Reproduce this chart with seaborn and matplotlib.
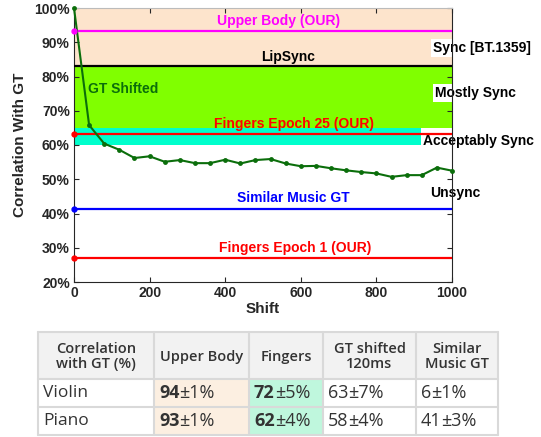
import numpy as np
import pandas as pd
import matplotlib
matplotlib.use("Agg")
import matplotlib.pyplot as plt
import seaborn as sns
from matplotlib.patches import Rectangle
from matplotlib.ticker import FuncFormatter

# Curve: correlation of shifted GT vs shift
shift = [0, 40, 80, 120, 160, 200, 240, 280, 320, 360, 400, 440, 480, 520,
         560, 600, 640, 680, 720, 760, 800, 840, 880, 920, 960, 1000]
corr = [100, 65.8, 60.4, 58.6, 56.2, 56.7, 55.1, 55.6, 54.7, 54.7, 55.7, 54.6, 55.6,
        55.9, 54.6, 53.8, 53.9, 53.2, 52.6, 52.1, 51.7, 50.7, 51.2, 51.2, 53.4, 52.5]

# Horizontal reference lines
ref_names = ["Upper Body (OUR)", "LipSync", "Fingers Epoch 25 (OUR)",
             "Similar Music GT", "Fingers Epoch 1 (OUR)"]
ref_values = [93.3, 83.0, 63.1, 41.3, 27.1]
ref_colors = ["#ff00ff", "#000000", "#ff0000", "#0000ff", "#ff0000"]
ref_markers = [True, False, True, True, True]

# Sync zones (BT.1359)
band_low = [83, 65, 60]
band_high = [100, 83, 65]
band_end = [1000, 1000, 918]
band_colors = ["#fde4cc", "#80ff00", "#00ffcc"]
zone_names = ["Sync [BT.1359]", "Mostly Sync", "Acceptably Sync", "Unsync"]
zone_y = [88.3, 75.1, 61.3, 45.9]
zone_x = [950, 955, 923, 942]

# Table
col_headers = ["Correlation\nwith GT (%)", "Upper Body", "Fingers",
               "GT shifted\n120ms", "Similar\nMusic GT"]
row_names = ["Violin", "Piano"]
upper_mean = [94, 93]
upper_std = [1, 1]
fingers_mean = [72, 62]
fingers_std = [5, 4]
shifted_mean = [63, 58]
shifted_std = [7, 4]
similar_mean = [6, 41]
similar_std = [1, 3]

sns.set_style("ticks")
plt.rcParams['font.family'] = ['Liberation Sans', 'DejaVu Sans']

fig = plt.figure(figsize=(5.41, 4.37), dpi=100)

# overlay axes in pixel coords for the table
axt = fig.add_axes([0, 0, 1, 1])
axt.set_xlim(0, 541)
axt.set_ylim(437, 0)
axt.axis("off")

ax = fig.add_axes([74 / 541, 1 - 282 / 437, 378 / 541, 274 / 437])
ax.set_xlim(0, 1000)
ax.set_ylim(20, 100)

for lo, hi, xe, c in zip(band_low, band_high, band_end, band_colors):
    ax.fill_between([0, xe], lo, hi, color=c, lw=0, zorder=0)

green = "#0b6e0b"
df = pd.DataFrame({"Shift": shift, "Corr": corr})
sns.lineplot(data=df, x="Shift", y="Corr", ax=ax, color=green, lw=1.5,
             marker="o", markersize=3.5, markeredgewidth=0, clip_on=False, zorder=4)

for name, v, c, m in zip(ref_names, ref_values, ref_colors, ref_markers):
    ax.plot([0, 1000], [v, v], color=c, lw=1.6, zorder=3)
    if m:
        ax.plot([0], [v], marker="o", color=c, markersize=3.5, clip_on=False, zorder=5)

# labels on the lines
lab_x = [540, 566, 581, 579, 584]
lab_y = [96.2, 85.7, 66.1, 44.5, 30.0]
for name, c, x, y in zip(ref_names, ref_colors, lab_x, lab_y):
    ax.text(x, y, name, color=c, fontsize=10, fontweight="bold", ha="center", va="center", zorder=6)
ax.text(37, 76.4, "GT Shifted", color=green, fontsize=10, fontweight="bold", ha="left", va="center", zorder=6)

for name, x, y in zip(zone_names, zone_x, zone_y):
    ax.text(x, y, name, color="black", fontsize=10, fontweight="bold", ha="left", va="center",
            zorder=2, clip_on=False,
            bbox=dict(facecolor="white", edgecolor="none", pad=1.5))

ax.set_xticks([0, 200, 400, 600, 800, 1000])
ax.set_yticks([20, 30, 40, 50, 60, 70, 80, 90, 100])
ax.yaxis.set_major_formatter(FuncFormatter(lambda v, p: f"{v:.0f}%"))
ax.tick_params(direction="in", top=True, right=True, length=3.5, width=0.8,
               labelsize=10, colors="#262626", pad=3)
for lab in ax.get_xticklabels() + ax.get_yticklabels():
    lab.set_fontweight("bold")
for s in ["left", "bottom", "right"]:
    ax.spines[s].set_color("#262626")
    ax.spines[s].set_linewidth(0.8)
ax.spines["top"].set_color("#bbbbbb")
ax.spines["top"].set_linewidth(0.8)
ax.set_xlabel("Shift", fontsize=11, fontweight="bold", labelpad=1)
ax.set_ylabel("Correlation With GT", fontsize=11, fontweight="bold", labelpad=5)

# ---- table ----
tfont = ['Open Sans', 'DejaVu Sans']
col_x = [38, 154, 249, 323, 416, 498]
row_y = [332, 379, 407, 435]
line_c = "#d9d9d9"
axt.add_patch(Rectangle((col_x[0], row_y[0]), col_x[-1] - col_x[0], row_y[1] - row_y[0],
                        facecolor="#f2f2f2", edgecolor="none"))
for r in range(2):
    axt.add_patch(Rectangle((col_x[1], row_y[r + 1]), col_x[2] - col_x[1], row_y[r + 2] - row_y[r + 1],
                            facecolor="#fcefe1", edgecolor="none"))
    axt.add_patch(Rectangle((col_x[2], row_y[r + 1]), col_x[3] - col_x[2], row_y[r + 2] - row_y[r + 1],
                            facecolor="#bff7dd", edgecolor="none"))
for y in row_y:
    axt.plot([col_x[0], col_x[-1]], [y, y], color=line_c, lw=1.5)
for x in col_x:
    axt.plot([x, x], [row_y[0], row_y[-1]], color=line_c, lw=1.5)

for i, h in enumerate(col_headers):
    cx = (col_x[i] + col_x[i + 1]) / 2
    axt.text(cx, (row_y[0] + row_y[1]) / 2 + 1, h, ha="center", va="center", fontsize=10.5,
             color="#333333", family=tfont, fontweight="semibold", linespacing=1.1)

fig.canvas.draw()
renderer = fig.canvas.get_renderer()
cols = [(upper_mean, upper_std, True), (fingers_mean, fingers_std, True),
        (shifted_mean, shifted_std, False), (similar_mean, similar_std, False)]
for r, name in enumerate(row_names):
    cy = (row_y[r + 1] + row_y[r + 2]) / 2
    axt.text(col_x[0] + 5, cy, name, ha="left", va="center", fontsize=12.5, color="#333333", family=tfont)
    for j, (mv, sv, bold) in enumerate(cols):
        x0 = col_x[j + 1] + 5
        t = axt.text(x0, cy, f"{mv[r]}", ha="left", va="center", fontsize=13, color="#333333",
                     family=tfont, fontweight="bold" if bold else "normal")
        bb = t.get_window_extent(renderer)
        x1 = axt.transData.inverted().transform((bb.x1, bb.y0))[0]
        axt.text(x1, cy, f"±{sv[r]}%", ha="left", va="center", fontsize=13, color="#333333", family=tfont)

fig.savefig("out.png", dpi=100)
